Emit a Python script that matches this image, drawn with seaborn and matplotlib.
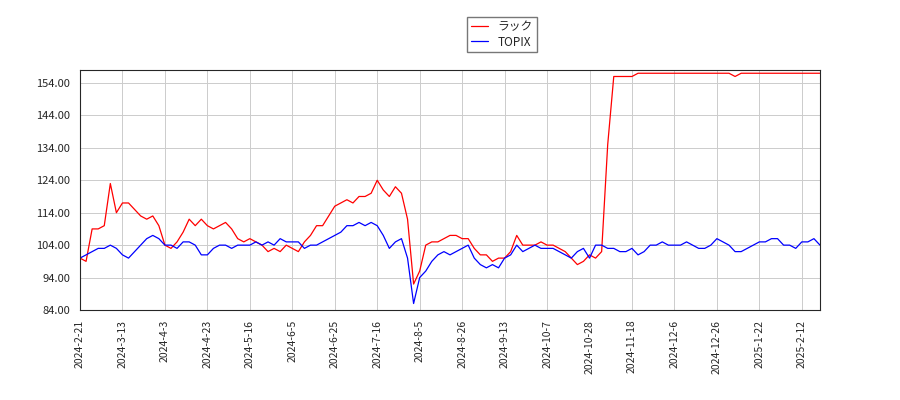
import matplotlib
matplotlib.use("Agg")
import matplotlib.pyplot as plt
import seaborn as sns
import pandas as pd

sns.set_style("white")
plt.rcParams['font.family'] = ['Noto Sans CJK JP', 'DejaVu Sans']

tick_labels = ["2024-2-21","2024-3-13","2024-4-3","2024-4-23","2024-5-16","2024-6-5",
               "2024-6-25","2024-7-16","2024-8-5","2024-8-26","2024-9-13","2024-10-7",
               "2024-10-28","2024-11-18","2024-12-6","2024-12-26","2025-1-22","2025-2-12"]

rack = [100,99,109,109,110,123,114,
        117,117,115,113,112,113,110,
        104,103,105,108,112,110,112,
        110,109,110,111,109,106,105,
        106,105,104,102,103,102,104,
        103,102,105,107,110,110,113,
        116,117,118,117,119,119,120,
        124,121,119,122,120,112,92,
        96,104,105,105,106,107,107,
        106,106,103,101,101,99,100,
        100,102,107,104,104,104,105,
        104,104,103,102,100,98,99,
        101,100,102,135,156,156,156,
        156,157,157,157,157,157,157,
        157,157,157,157,157,157,157,
        157,157,157,156,157,157,157,
        157,157,157,157,157,157,157,
        157,157,157,157]
topix = [100,101,102,103,103,104,103,
         101,100,102,104,106,107,106,
         104,104,103,105,105,104,101,
         101,103,104,104,103,104,104,
         104,105,104,105,104,106,105,
         105,105,103,104,104,105,106,
         107,108,110,110,111,110,111,
         110,107,103,105,106,100,86,
         94,96,99,101,102,101,102,
         103,104,100,98,97,98,97,
         100,101,104,102,103,104,103,
         103,103,102,101,100,102,103,
         100,104,104,103,103,102,102,
         103,101,102,104,104,105,104,
         104,104,105,104,103,103,104,
         106,105,104,102,102,103,104,
         105,105,106,106,104,104,103,
         105,105,106,104]

df = pd.DataFrame({"x": range(len(rack)), "rack": rack, "topix": topix})

fig = plt.figure(figsize=(9, 4), dpi=100)
ax = fig.add_axes([80/900, 90/400, 740/900, 240/400])
sns.lineplot(data=df, x="x", y="rack", ax=ax, color="red", lw=0.9, label="ラック")
sns.lineplot(data=df, x="x", y="topix", ax=ax, color="blue", lw=0.9, label="TOPIX")
ax.set_xlim(0, len(rack) - 1)
ax.set_ylim(84, 158)
ax.set_yticks([84 + 10*i for i in range(8)])
ax.set_yticklabels([f"{84 + 10*i:.2f}" for i in range(8)], fontsize=8)
ax.set_xticks([7*i for i in range(len(tick_labels))])
ax.set_xticklabels(tick_labels, rotation=90, fontsize=7.5)
ax.set_xlabel(""); ax.set_ylabel("")
ax.grid(True, color="#cccccc", lw=0.7)
ax.legend(loc="lower center", bbox_to_anchor=(0.57, 1.05), fontsize=8.5, frameon=True,
          fancybox=False, edgecolor="#555555", borderpad=0.3, labelspacing=0.2,
          handlelength=1.5)
fig.savefig("out.png")
